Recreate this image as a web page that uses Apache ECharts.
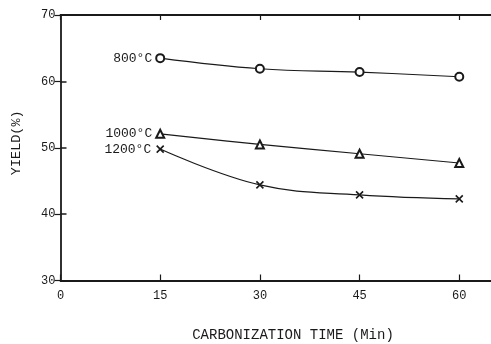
<!DOCTYPE html>
<html>
<head>
<meta charset="utf-8">
<script src="https://cdn.jsdelivr.net/npm/echarts@6/dist/echarts.min.js"></script>
<style>
  html, body { margin: 0; padding: 0; background: #fff; }
  #chart { width: 491px; height: 344px; }
</style>
</head>
<body>
<div id="chart"></div>
<script>
// Carbonization time (min) at which yield was measured
const times = [15, 30, 45, 60];

// Yield (%) at each carbonization temperature
const yield800 = [63.5, 61.9, 61.4, 60.7];
const yield1000 = [52.1, 50.5, 49.1, 47.7];
const yield1200 = [49.8, 44.4, 42.9, 42.3];

const seriesNames = ['800°C', '1000°C', '1200°C'];

const xTicks = [0, 15, 30, 45, 60];
const yTicks = [30, 40, 50, 60, 70];

const mono = '"Liberation Mono", "DejaVu Sans Mono", monospace';
const ink = '#1a1a1a';

function pairs(values) {
  return times.map((t, i) => [t, values[i]]);
}

const crossPath = 'path://M0,0L10,10M10,0L0,10';

function makeSeries(name, values, symbol, size, extraItem) {
  return {
    name: name,
    type: 'line',
    smooth: 0.4,
    data: pairs(values),
    symbol: symbol,
    symbolSize: size,
    showAllSymbol: true,
    lineStyle: { color: ink, width: 1.2 },
    itemStyle: Object.assign({ color: ink, borderColor: ink, borderWidth: 1.2 }, extraItem || {}),
    label: {
      show: true,
      position: 'left',
      distance: 3,
      fontFamily: mono,
      fontSize: 13,
      color: ink,
      formatter: (p) => (p.dataIndex === 0 ? name : '')
    },
    emphasis: { disabled: true },
    z: 3
  };
}

const chart = echarts.init(document.getElementById('chart'), null, { renderer: 'canvas' });

// The frame runs just past the right edge of the canvas, so only the
// inward ticks of the right-hand axis show.
chart.setOption({
  animation: false,
  backgroundColor: '#fff',
  grid: {
    left: 60.5, top: 15, width: 432, bottom: 63.5,
    containLabel: false,
    outerBoundsMode: 'none'
  },
  xAxis: [
    {
      type: 'value',
      min: 0,
      max: 65,
      interval: 15,
      position: 'bottom',
      name: 'CARBONIZATION TIME (Min)',
      nameLocation: 'middle',
      nameGap: 48,
      nameTextStyle: { fontFamily: mono, fontSize: 14, color: ink, padding: [0, 0, 0, 33] },
      axisLine: { show: true, lineStyle: { color: ink, width: 1.8 } },
      axisTick: { show: true, inside: true, length: 6, lineStyle: { color: ink, width: 1.2 } },
      axisLabel: {
        fontFamily: mono, fontSize: 12, color: ink, margin: 9,
        formatter: (v) => (xTicks.includes(v) ? String(v) : '')
      },
      splitLine: { show: false }
    },
    {
      type: 'value',
      min: 0,
      max: 65,
      interval: 15,
      position: 'top',
      axisLine: { show: true, lineStyle: { color: ink, width: 1.8 } },
      axisTick: { show: true, inside: true, length: 5, lineStyle: { color: ink, width: 1.2 } },
      axisLabel: { show: false },
      splitLine: { show: false }
    }
  ],
  yAxis: [
    {
      type: 'value',
      min: 30,
      max: 70,
      interval: 10,
      position: 'left',
      name: 'YIELD(%)',
      nameLocation: 'middle',
      nameGap: 37,
      nameRotate: 90,
      nameTextStyle: { fontFamily: mono, fontSize: 13.5, color: ink, padding: [0, 0, 0, 10] },
      axisLine: { show: true, lineStyle: { color: ink, width: 1.8 } },
      axisTick: { show: true, inside: true, length: 6, lineStyle: { color: ink, width: 1.5 } },
      axisLabel: {
        fontFamily: mono, fontSize: 12, color: ink, margin: 5,
        formatter: (v) => (yTicks.includes(v) ? String(v) : '')
      },
      splitLine: { show: false }
    },
    {
      type: 'value',
      min: 30,
      max: 70,
      interval: 10,
      position: 'right',
      axisLine: { show: false },
      axisTick: { show: true, inside: true, length: 6, lineStyle: { color: ink, width: 1.2 } },
      axisLabel: { show: false },
      splitLine: { show: false }
    }
  ],
  series: [
    makeSeries(seriesNames[0], yield800, 'emptyCircle', 8),
    makeSeries(seriesNames[1], yield1000, 'emptyTriangle', 8),
    makeSeries(seriesNames[2], yield1200, crossPath, 7, { color: 'none', borderWidth: 1.6 })
  ]
});
</script>
</body>
</html>
